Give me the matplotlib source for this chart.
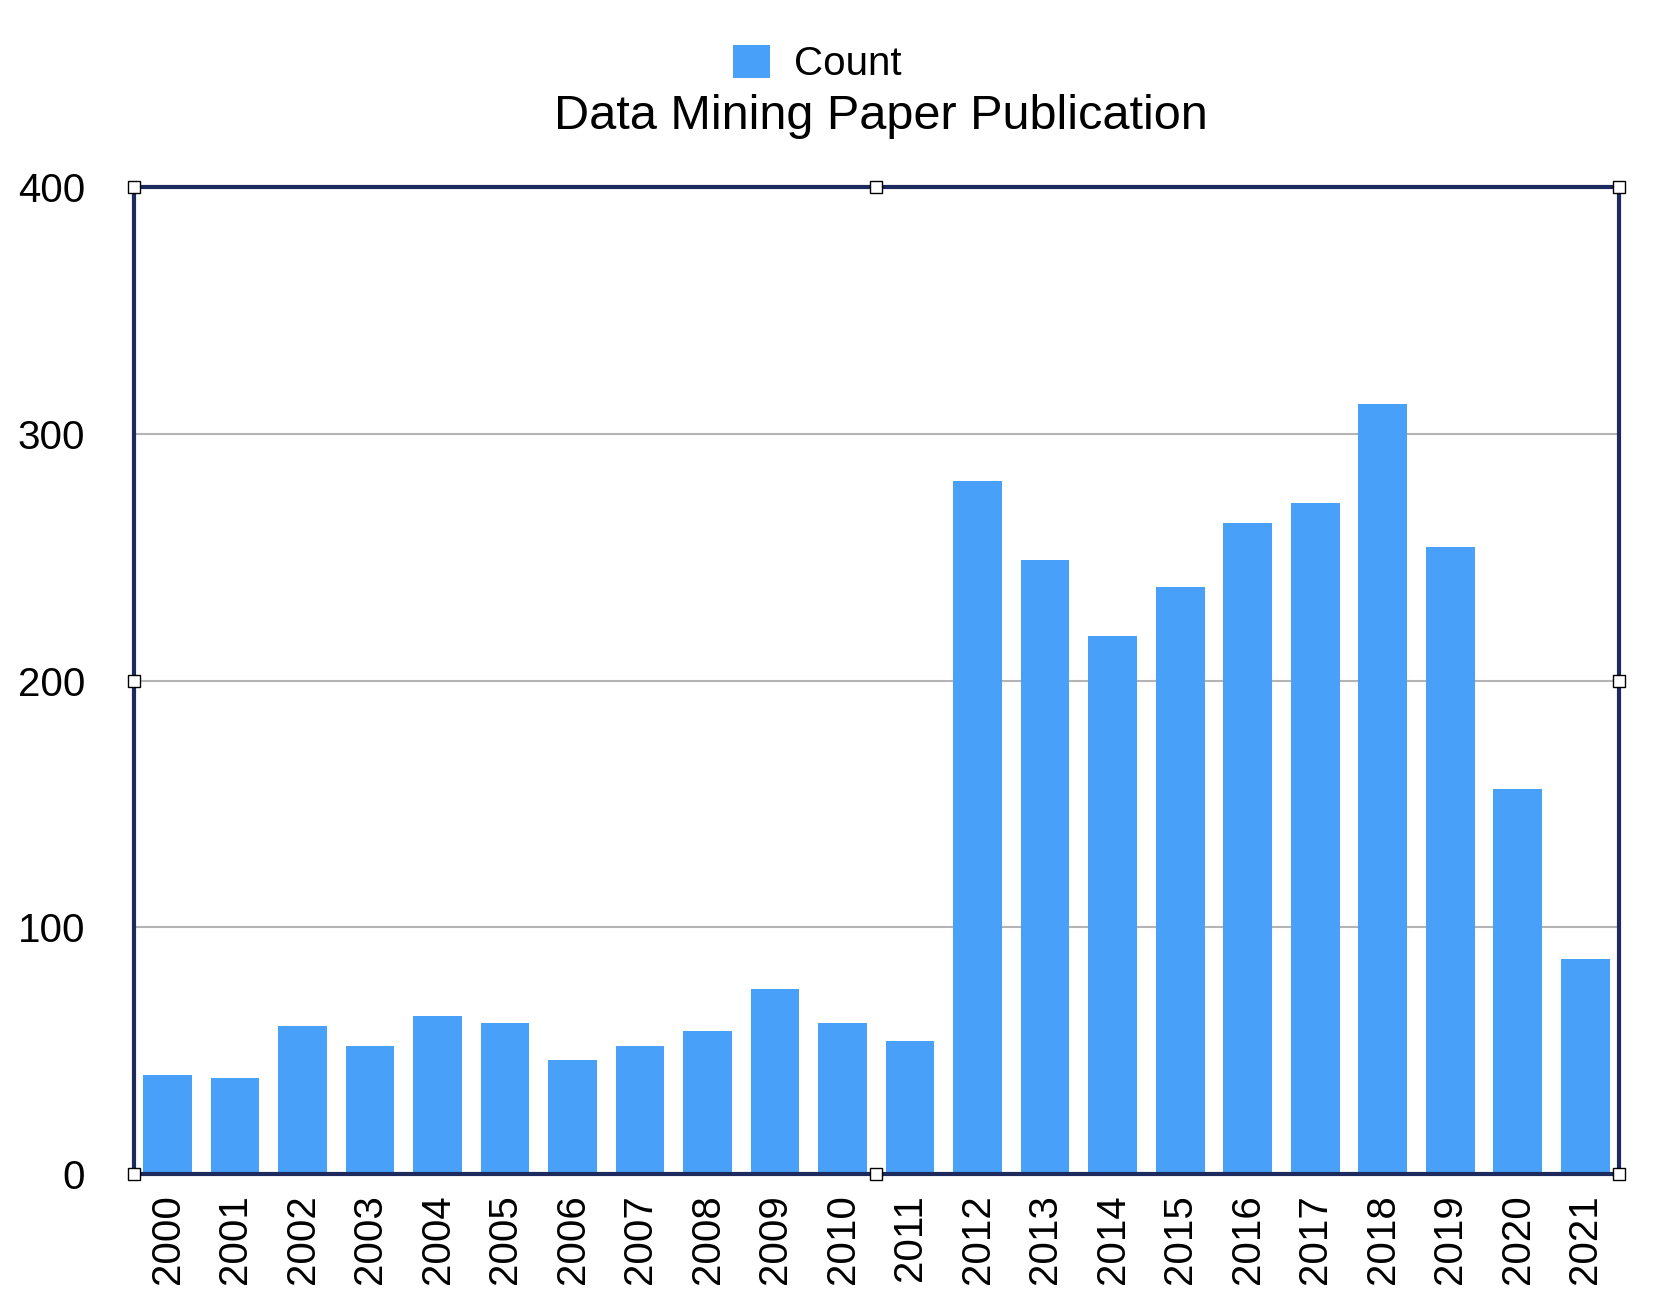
import numpy as np
import matplotlib.pyplot as plt

years = [str(y) for y in range(2000, 2022)]
counts = [40, 39, 60, 52, 64, 61, 46, 52, 58, 75, 61, 54,
          281, 249, 218, 238, 264, 272, 312, 254, 156, 87]
yticks = [0, 100, 200, 300, 400]

plt.rcParams['font.family'] = ['Liberation Sans', 'DejaVu Sans']

fig = plt.figure(figsize=(16.58, 13.10), dpi=100)
ax = fig.add_axes([0.0807, 0.104, 0.8958, 0.753])

x = np.arange(len(years))
bars = ax.bar(x, counts, width=0.72, color='#48a0f8', label='Count', zorder=2)

ax.set_xlim(-0.5, len(years) - 0.5)
ax.set_ylim(0, 400)
ax.set_yticks(yticks)
ax.set_xticks(x)
ax.set_xticklabels(years, rotation=90)
ax.tick_params(axis='y', length=0, pad=35, labelsize=29)
ax.tick_params(axis='x', length=0, pad=15, labelsize=29)
ax.yaxis.grid(True, color='#b4b4b4', linewidth=1.5, zorder=1)
ax.set_axisbelow(True)

for s in ax.spines.values():
    s.set_color('#1c2a5e')
    s.set_linewidth(3)
    s.set_zorder(3)

# selection handles around the frame
hx = [0, 0.5, 1, 0, 1, 0, 0.5, 1]
hy = [1, 1, 1, 0.5, 0.5, 0, 0, 0]
ax.plot(hx, hy, linestyle='none', marker='s', markersize=8,
        markerfacecolor='white', markeredgecolor='black', markeredgewidth=1,
        transform=ax.transAxes, clip_on=False, zorder=5)

fig.text(0.531, 0.911, 'Data Mining Paper Publication', ha='center', va='center', fontsize=35)
fig.legend(handles=[bars], labels=['Count'], loc='center', bbox_to_anchor=(0.493, 0.951),
           frameon=False, fontsize=29, handlelength=0.9, handleheight=0.9, handletextpad=0.6)

fig.savefig('out.png', dpi=100)
